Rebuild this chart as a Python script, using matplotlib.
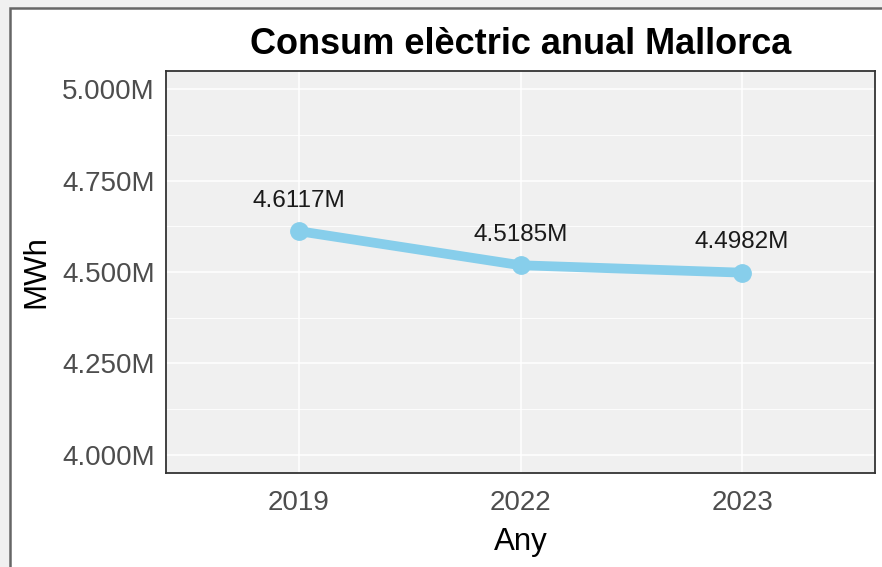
import matplotlib
matplotlib.use("Agg")
import matplotlib.pyplot as plt
from matplotlib.patches import Rectangle
from matplotlib.ticker import MultipleLocator

years = ["2019", "2022", "2023"]
consum = [4.6117e6, 4.5185e6, 4.4982e6]
labels = ["4.6117M", "4.5185M", "4.4982M"]
yticks = [4.0e6, 4.25e6, 4.5e6, 4.75e6, 5.0e6]
ytick_labels = ["4.000M", "4.250M", "4.500M", "4.750M", "5.000M"]

plt.rcParams['font.family'] = ['Liberation Sans', 'DejaVu Sans']

W, H = 882, 567
fig = plt.figure(figsize=(W / 100, H / 100), dpi=100)
fig.patch.set_facecolor('#F0F0F0')
# inner white canvas with grey frame (screenshot style)
fig.patches.append(Rectangle((9.5 / W, -0.1), 1.2, (H - 7.5) / H + 0.1,
                             transform=fig.transFigure, facecolor='white',
                             edgecolor='#666666', linewidth=1.8, zorder=-10))

ax = fig.add_axes([166 / W, (H - 473) / H, (875 - 166) / W, (473 - 71) / H])
ax.set_facecolor('#F0F0F0')

x = list(range(len(years)))
ax.plot(x, consum, color='#87CEEB', linewidth=7, solid_capstyle='butt', zorder=3)
ax.plot(x, consum, 'o', color='#87CEEB', markersize=12.5, zorder=4)
for xi, yi, lab in zip(x, consum, labels):
    ax.annotate(lab, (xi, yi), xytext=(0, 14), textcoords='offset points',
                ha='center', va='bottom', fontsize=17.5, color='#1a1a1a')

ax.set_xlim(-0.6, len(years) - 0.4)
ax.set_ylim(3.95e6, 5.05e6)
ax.set_xticks(x)
ax.set_xticklabels(years)
ax.set_yticks(yticks)
ax.set_yticklabels(ytick_labels)
ax.yaxis.set_minor_locator(MultipleLocator(0.125e6))

ax.grid(True, which='major', color='white', linewidth=1.1, zorder=0)
ax.grid(True, which='minor', axis='y', color='white', linewidth=0.6, zorder=0)
ax.set_axisbelow(True)

for s in ax.spines.values():
    s.set_color('#333333')
    s.set_linewidth(1.3)

ax.tick_params(axis='both', which='major', length=4, width=1.1, color='white',
               labelcolor='#4D4D4D', labelsize=20, pad=4)
ax.tick_params(axis='x', which='major', pad=8)
ax.tick_params(axis='both', which='minor', length=0)

ax.set_xlabel('Any', fontsize=22.5, color='black', labelpad=8)
ax.set_ylabel('MWh', fontsize=22.5, color='black', labelpad=8)
ax.set_title('Consum elèctric anual Mallorca', fontsize=26, fontweight='bold',
             color='black', pad=12)

fig.savefig('out.png', dpi=100)
